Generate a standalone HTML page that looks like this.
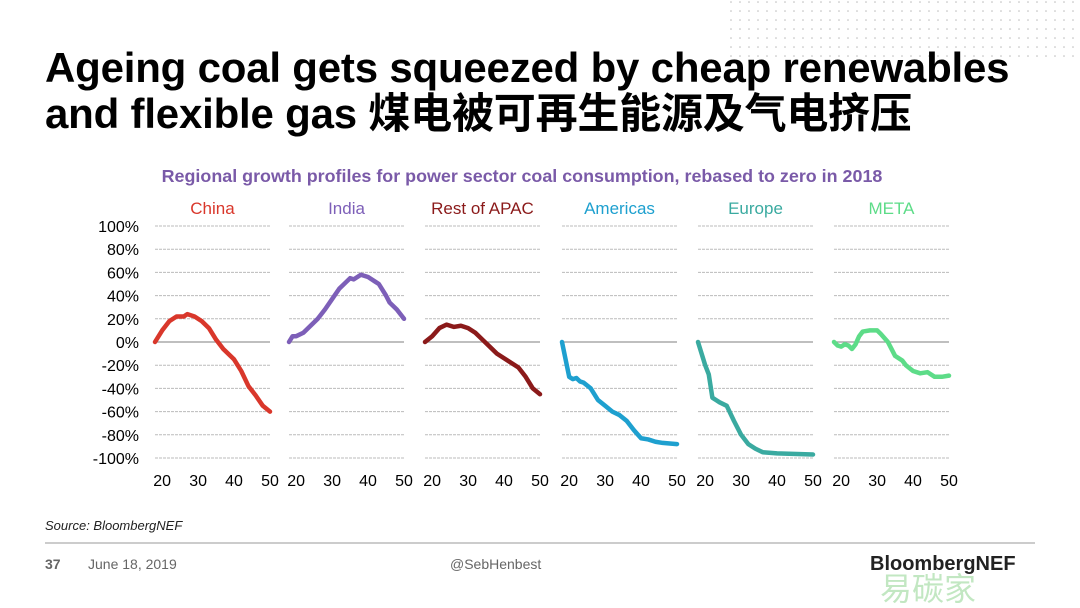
<!DOCTYPE html>
<html><head><meta charset="utf-8"><style>
body{margin:0;background:#fff;width:1080px;height:608px;overflow:hidden;position:relative;font-family:"Liberation Sans","Noto Sans CJK SC",sans-serif}
.t{position:absolute;left:45px;top:45px;font-size:42px;font-weight:bold;line-height:46px;color:#000;letter-spacing:-0.2px;white-space:nowrap}
</style></head><body>
<svg width="1080" height="608" style="position:absolute;left:0;top:0">
<defs><pattern id="dots" width="9" height="9" patternUnits="userSpaceOnUse"><circle cx="2" cy="2" r="0.8" fill="#bbb"/></pattern></defs>
<rect x="730" y="0" width="350" height="62" fill="url(#dots)"/>
<text x="522" y="182" text-anchor="middle" font-size="17.9" font-weight="bold" fill="#7a5aa8" font-family="Liberation Sans">Regional growth profiles for power sector coal consumption, rebased to zero in 2018</text>
<g font-family="Liberation Sans" font-size="16" fill="#000" text-anchor="end" id="yl"></g>
<g id="panels"></g>
<text x="45" y="530" font-size="13" font-style="italic" fill="#222" font-family="Liberation Sans">Source: BloombergNEF</text>
<line x1="45" y1="543" x2="1035" y2="543" stroke="#999" stroke-width="1"/>
<text x="45" y="569" font-size="14" fill="#666" font-family="Liberation Sans" font-weight="bold">37</text>
<text x="88" y="569" font-size="14" fill="#666" font-family="Liberation Sans">June 18, 2019</text>
<text x="450" y="569" font-size="14" fill="#666" font-family="Liberation Sans">@SebHenbest</text>
<text x="870" y="570" font-size="20" font-weight="bold" fill="#222" font-family="Liberation Sans">BloombergNEF</text>
<text x="880" y="600" font-size="32" fill="#9bd89b" opacity="0.6" font-family="Noto Sans CJK SC">易碳家</text>
</svg>
<div class="t">Ageing coal gets squeezed by cheap renewables<br>and flexible gas 煤电被可再生能源及气电挤压</div>
<script>
const ns="http://www.w3.org/2000/svg";
const P=document.getElementById('panels'),Y=document.getElementById('yl');
function el(t,a,p){const e=document.createElementNS(ns,t);for(const k in a)e.setAttribute(k,a[k]);p.appendChild(e);return e;}
const y=v=>342-v*1.16;
for(let v=100;v>=-100;v-=20){const t=el('text',{x:139,y:y(v)+6},Y);t.textContent=v+'%';}
const panels=[
["China","#d9372b",155,[[18,0],[20,10],[22,18],[24,22],[26,22],[27,24],[29,22],[31,18],[33,12],[35,2],[37,-6],[40,-15],[42,-25],[44,-38],[46,-46],[48,-55],[50,-60]]],
["India","#7d5fb8",289,[[18,0],[19,5],[20,5],[22,8],[24,14],[26,20],[28,28],[30,37],[32,46],[34,52],[35,55],[36,54],[38,58],[40,56],[42,52],[43,50],[45,40],[46,34],[48,28],[50,20]]],
["Rest of APAC","#8b1a1a",425,[[18,0],[20,5],[22,12],[24,15],[26,13],[28,14],[30,12],[32,8],[34,2],[36,-4],[38,-10],[40,-14],[42,-18],[44,-22],[46,-30],[48,-40],[50,-45]]],
["Americas","#1ea0cf",562,[[18,0],[19,-15],[20,-30],[21,-32],[22,-31],[23,-34],[24,-35],[26,-40],[28,-50],[30,-55],[32,-60],[34,-63],[36,-68],[38,-76],[40,-83],[42,-84],[44,-86],[46,-87],[50,-88]]],
["Europe","#3aaaa0",698,[[18,0],[20,-20],[21,-28],[22,-48],[23,-50],[24,-52],[26,-55],[28,-68],[30,-80],[32,-88],[34,-92],[36,-95],[40,-96],[50,-97]]],
["META","#5ddc88",834,[[18,0],[19,-3],[20,-4],[21,-2],[22,-3],[23,-6],[24,-2],[25,5],[26,9],[28,10],[30,10],[31,7],[33,0],[34,-6],[35,-12],[37,-16],[38,-20],[40,-25],[42,-27],[44,-26],[46,-30],[48,-30],[50,-29]]]];
for(const [n,c,x0,d] of panels){
 const w=115,X=yr=>x0+(yr-18)*w/32;
 for(let v=100;v>=-100;v-=20){
  if(v===0) el('line',{x1:x0,x2:x0+w,y1:y(0),y2:y(0),stroke:'#999','stroke-width':1.2},P);
  else el('line',{x1:x0,x2:x0+w,y1:y(v),y2:y(v),stroke:'#bbb','stroke-width':1,'stroke-dasharray':'3,1'},P);
 }
 const t=el('text',{x:x0+w/2,y:214,'text-anchor':'middle','font-size':17,fill:c,'font-family':'Liberation Sans'},P);t.textContent=n;
 for(const yr of [20,30,40,50]){const k=el('text',{x:X(yr),y:486,'text-anchor':'middle','font-size':16,fill:'#000','font-family':'Liberation Sans'},P);k.textContent=yr;}
 el('polyline',{points:d.map(p=>X(p[0])+','+y(p[1])).join(' '),fill:'none',stroke:c,'stroke-width':4.5,'stroke-linejoin':'round','stroke-linecap':'round'},P);
}
</script>
</body></html>
